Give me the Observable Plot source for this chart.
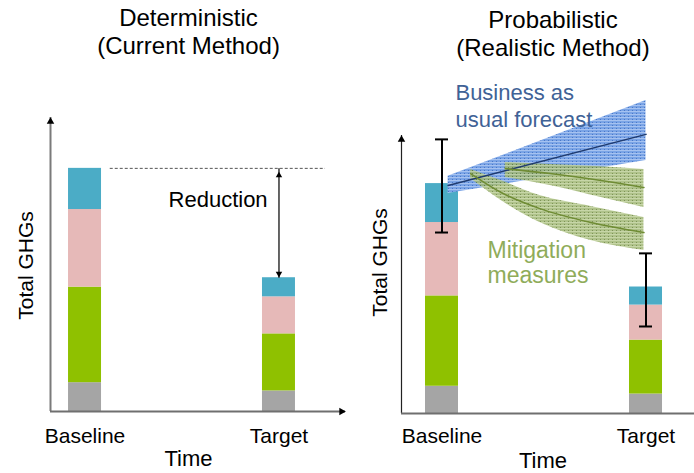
<!DOCTYPE html>
<html><head><meta charset="utf-8">
<script src="https://cdn.jsdelivr.net/npm/d3@7"></script>
<script src="https://cdn.jsdelivr.net/npm/@observablehq/plot@0.6"></script>
<style>
html,body{margin:0;padding:0;background:#fff;}
#chart{display:flex;width:694px;height:473px;overflow:hidden;}
#chart svg{display:block;flex:none;}
</style></head><body><div id="chart"></div>
<script>
// ---- data ----
const stages = ["Baseline", "Target"];
const stageTime = [0, 1];
const sources = ["Source 4", "Source 3", "Source 2", "Source 1"]; // bottom to top
const baselineValues = [9.8, 32.5, 26.4, 14.0];
const targetValues = [7.0, 19.4, 12.6, 6.5];
const sourceColors = ["#a5a5a5", "#8fc100", "#e6b9b8", "#4bacc6"];

const errorLow = [65.1, 31.3];
const errorHigh = [98.6, 57.6];

const bauTime = [0.03, 1.0];
const bauLow = [79.1, 91.0];
const bauMid = [82.0, 100.4];
const bauHigh = [85.3, 112.6];

const mitATime = [0.31, 0.53, 0.78, 0.99];
const mitALow = [84.9, 82.0, 77.7, 74.1];
const mitAMid = [88.1, 86.3, 83.8, 81.3];
const mitAHigh = [90.3, 89.6, 88.8, 87.8];

const mitBTime = [0.14, 0.29, 0.48, 0.73, 0.99];
const mitBLow = [84.5, 76.6, 68.7, 62.2, 58.6];
const mitBMid = [86.3, 79.5, 73.7, 68.7, 65.1];
const mitBHigh = [87.8, 83.8, 78.4, 74.5, 70.5];

// ---- derived tables ----
const bars = [];
stages.forEach((s, i) => {
  const vals = i === 0 ? baselineValues : targetValues;
  sources.forEach((src, j) => bars.push({stage: s, t: stageTime[i], source: src, value: vals[j]}));
});
const baselineTotal = d3.sum(baselineValues);
const targetTotal = d3.sum(targetValues);
const errors = stages.map((s, i) => ({t: stageTime[i], lo: errorLow[i], hi: errorHigh[i]}));
const band = (T, L, M, H) => T.map((t, i) => ({t, lo: L[i], mid: M[i], hi: H[i]}));
const bau = band(bauTime, bauLow, bauMid, bauHigh);
const mitA = band(mitATime, mitALow, mitAMid, mitAHigh);
const mitB = band(mitBTime, mitBLow, mitBMid, mitBHigh);

const FONT = "Liberation Sans, Arial, Helvetica, sans-serif";

function panel(cfg) {
  const half = 16.5 / cfg.pxPerT;
  const x0 = cfg.xDomain[0], x1 = cfg.xDomain[1];
  const marks = [
    Plot.rectY(bars, {x1: d => d.t - half, x2: d => d.t + half, y: "value", fill: "source"}),
    // axes
    Plot.ruleX([x0], {y1: 0, y2: 100, stroke: cfg.yAxisStroke, strokeWidth: cfg.yAxisWidth}),
    Plot.dot([x0], {x: d => d, y: 100, symbol: "triangle", r: 2.8, fill: "black", dy: 4}),
    Plot.ruleY([0], {x1: x0, x2: x1, stroke: "#6f6f6f", strokeWidth: 2}),
    ...(cfg.xArrow ? [Plot.dot([x1], {x: d => d, y: 0, symbol: "triangle", r: 2.8, fill: "black", rotate: 90, dx: -4})] : []),
    // labels
    Plot.text(stages, {x: (d, i) => stageTime[i], text: d => d, frameAnchor: "bottom", dy: cfg.tickDy, lineAnchor: "bottom", fontSize: 21, fill: "black"}),
    Plot.text(["Time"], {frameAnchor: "bottom", dx: cfg.timeDx, dy: cfg.timeDy, lineAnchor: "bottom", fontSize: 22, fill: "black"}),
    Plot.text(["Total GHGs"], {frameAnchor: "left", textAnchor: "middle", rotate: -90, dx: cfg.yLabelDx, dy: cfg.yLabelDy, lineAnchor: "bottom", fontSize: 21, fill: "black"}),
    Plot.text([cfg.title], {frameAnchor: "top", dx: cfg.titleDx, dy: cfg.titleDy, lineAnchor: "bottom", lineHeight: 1.167, fontSize: 24, fill: "black"}),
    ...(cfg.after || [])
  ];
  return Plot.plot({
    width: 347, height: 473,
    marginLeft: cfg.marginLeft, marginRight: cfg.marginRight,
    marginTop: cfg.marginTop, marginBottom: cfg.marginBottom,
    style: {fontFamily: FONT, background: "white", overflow: "visible"},
    x: {domain: cfg.xDomain, axis: null},
    y: {domain: [0, 100], axis: null},
    color: {domain: sources, range: sourceColors},
    marks
  });
}

// ---- left: deterministic ----
const left = panel({
  title: "Deterministic\n(Current Method)",
  xDomain: [-0.178, 1.343], pxPerT: 194,
  marginLeft: 50, marginRight: 2, marginTop: 117, marginBottom: 62,
  yAxisStroke: "#7a7a7a", yAxisWidth: 2, xArrow: true,
  tickDy: 31, timeDx: -9.5, timeDy: 54, yLabelDx: -18, yLabelDy: 1,
  titleDx: -9.5, titleDy: -64,
  after: [
    Plot.ruleY([baselineTotal], {x1: 0.13, x2: 1.24, stroke: "#555", strokeWidth: 1, strokeDasharray: "3,2"}),
    Plot.link([1], {x1: d => d, x2: d => d, y1: baselineTotal, y2: targetTotal, stroke: "#333", strokeWidth: 1.5}),
    Plot.dot([1], {x: d => d, y: baselineTotal, symbol: "triangle", r: 2.4, fill: "black", dy: 7}),
    Plot.dot([1], {x: d => d, y: targetTotal, symbol: "triangle", r: 2.4, fill: "black", rotate: 180, dy: -4}),
    Plot.text(["Reduction"], {x: 0.686, y: 69.4, lineAnchor: "bottom", fontSize: 22, fill: "black"})
  ]
});

// ---- right: probabilistic ----
const right = panel({
  title: "Probabilistic\n(Realistic Method)",
  xDomain: [-0.1985, 1.2377], pxPerT: 204,
  marginLeft: 54, marginRight: 0, marginTop: 135, marginBottom: 60,
  yAxisStroke: "#222", yAxisWidth: 1.2, xArrow: false,
  tickDy: 29, timeDx: -5, timeDy: 54, yLabelDx: -15, yLabelDy: -12,
  titleDx: 5, titleDy: -80,
  after: [
    Plot.areaY(bau, {x: "t", y1: "lo", y2: "hi", fill: "url(#bauPattern)"}),
    Plot.areaY(mitA, {x: "t", y1: "lo", y2: "hi", fill: "url(#mitPattern)", fillOpacity: 0.85, curve: "monotone-x"}),
    Plot.areaY(mitB, {x: "t", y1: "lo", y2: "hi", fill: "url(#mitPattern)", fillOpacity: 0.85, curve: "monotone-x"}),
    Plot.line(bau, {x: "t", y: "mid", stroke: "#1f3b70", strokeWidth: 1.5}),
    Plot.line(mitA, {x: "t", y: "mid", stroke: "#6f8c34", strokeWidth: 1.5, curve: "monotone-x"}),
    Plot.line(mitB, {x: "t", y: "mid", stroke: "#6f8c34", strokeWidth: 1.5, curve: "monotone-x"}),
    Plot.link(errors, {x1: "t", x2: "t", y1: "lo", y2: "hi", stroke: "black", strokeWidth: 2}),
    Plot.ruleY(errors, {y: "lo", x1: d => d.t - 6.5 / 204, x2: d => d.t + 6.5 / 204, stroke: "black", strokeWidth: 2}),
    Plot.ruleY(errors, {y: "hi", x1: d => d.t - 6.5 / 204, x2: d => d.t + 6.5 / 204, stroke: "black", strokeWidth: 2}),
    Plot.text(["Business as\nusual forecast"], {x: 0.066, y: 102.9, textAnchor: "start", lineAnchor: "bottom", lineHeight: 1.227, fontSize: 22, fill: "#406296"}),
    Plot.text(["Mitigation\nmeasures"], {x: 0.223, y: 46.8, textAnchor: "start", lineAnchor: "bottom", lineHeight: 1.09, fontSize: 23, fill: "#8fac5a"})
  ]
});

// texture patterns for the forecast bands
const defs = d3.select(right).insert("defs", ":first-child");
const pb = defs.append("pattern").attr("id", "bauPattern").attr("width", 4).attr("height", 3).attr("patternUnits", "userSpaceOnUse");
pb.append("rect").attr("width", 4).attr("height", 3).attr("fill", "#7aa4e6");
pb.append("rect").attr("width", 4).attr("height", 1).attr("fill", "#a6c2f0");
pb.append("rect").attr("x", 1).attr("y", 2).attr("width", 1).attr("height", 1).attr("fill", "#4a78c8");
const pg = defs.append("pattern").attr("id", "mitPattern").attr("width", 4).attr("height", 3).attr("patternUnits", "userSpaceOnUse");
pg.append("rect").attr("width", 4).attr("height", 3).attr("fill", "#a1b775");
pg.append("rect").attr("width", 4).attr("height", 1).attr("fill", "#bdcf99");
pg.append("rect").attr("x", 1).attr("y", 2).attr("width", 1).attr("height", 1).attr("fill", "#66803a");

document.getElementById("chart").append(left, right);
</script></body></html>
